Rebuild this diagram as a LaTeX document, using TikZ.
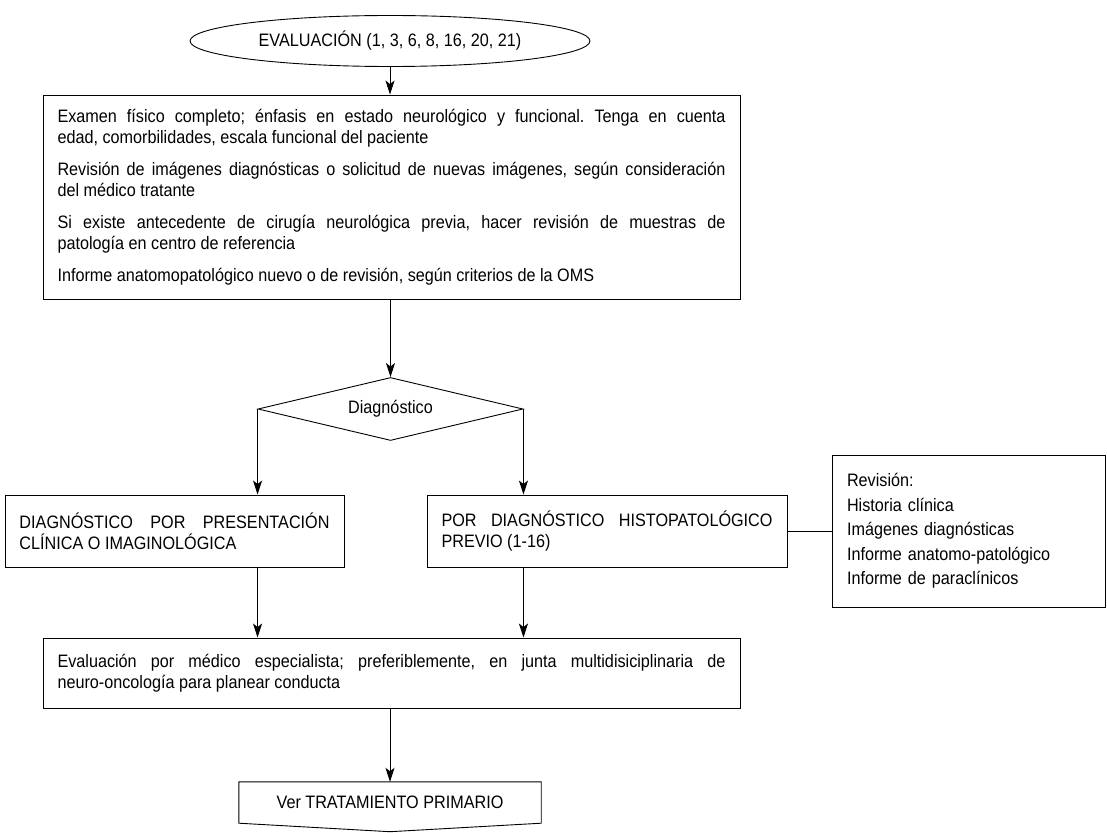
\documentclass[tikz,border=0pt]{standalone}
\usepackage{fontspec}
\setmainfont[FakeStretch=0.9]{Liberation Sans}
\usepackage{tikz}
\usetikzlibrary{shapes.geometric,arrows.meta,calc}
\hyphenpenalty=10000
\exhyphenpenalty=10000
\frenchspacing

\tikzset{
  caja/.style={draw,rectangle,line width=0.9pt,inner xsep=14.5pt,inner ysep=0pt,align=justify,font=\fontsize{18}{21}\selectfont},
  flecha/.style={line width=0.9pt,-{Stealth[length=14pt,width=9pt,inset=3.5pt]}},
  linea/.style={line width=0.9pt}
}

\begin{document}
\begin{tikzpicture}[x=1pt,y=-1pt]
%\draw[help lines] (0,0) grid (1107,832);
\path[use as bounding box] (0,0) rectangle (1107,832);

\node[draw,ellipse,line width=0.9pt,minimum width=400pt,minimum height=51pt,inner sep=0pt,font=\fontsize{18}{21}\selectfont] (evaluacion) at (390,41) {EVALUACIÓN (1, 3, 6, 8, 16, 20, 21)};

\node[caja,text width=668pt,minimum width=697pt,minimum height=204pt] (examen) at (391.5,197) {\setlength{\parskip}{11pt}Examen físico completo; énfasis en estado neurológico y funcional. Tenga en cuenta\linebreak edad, comorbilidades, escala funcional del paciente\par Revisión de imágenes diagnósticas o solicitud de nuevas imágenes, según consideración\linebreak del médico tratante\par Si existe antecedente de cirugía neurológica previa, hacer revisión de muestras de\linebreak patología en centro de referencia\par Informe anatomopatológico nuevo o de revisión, según criterios de la OMS};

\node[draw,diamond,line width=0.9pt,aspect=4.2,minimum width=265pt,minimum height=63pt,inner sep=0pt,font=\fontsize{18}{21}\selectfont] (diagnostico) at (390.5,409) {Diagnóstico};

\node[caja,text width=310pt,minimum width=339pt,minimum height=72pt] (clinica) at (174.5,531) {DIAGNÓSTICO POR PRESENTACIÓN\linebreak CLÍNICA O IMAGINOLÓGICA};
\node[caja,text width=331pt,minimum width=360pt,minimum height=72pt] (previo) at (607,531) {POR DIAGNÓSTICO HISTOPATOLÓGICO\linebreak PREVIO (1-16)};

\node[caja,align=left,text width=243pt,inner xsep=15pt,minimum width=273pt,minimum height=152pt,font=\fontsize{18}{24.5}\selectfont] (revision) at (968.5,531) {Revisión:\\Historia clínica\\Imágenes diagnósticas\\Informe anatomo-patológico\\Informe de paraclínicos};

\node[caja,text width=668pt,minimum width=697pt,minimum height=70pt] (especialista) at (391.5,673) {Evaluación por médico especialista; preferiblemente, en junta multidisiciplinaria de\linebreak neuro-oncología para planear conducta};

\node[minimum width=302pt,minimum height=41pt,inner sep=0pt,font=\fontsize{18}{21}\selectfont] (ver) at (390,802.5) {Ver TRATAMIENTO PRIMARIO};
\draw[linea] (ver.north west) -- (ver.north east) -- (ver.south east) -- ($(ver.south)+(0,8.5)$) -- (ver.south west) -- cycle;

\draw[flecha] (evaluacion.south) -- (evaluacion.south |- examen.north);
\draw[flecha] (examen.south -| diagnostico.north) -- (diagnostico.north);
\draw[flecha] (diagnostico.west) -- (diagnostico.west |- clinica.north);
\draw[flecha] (diagnostico.east) -- (diagnostico.east |- previo.north);
\draw[flecha] (diagnostico.west |- clinica.south) -- (diagnostico.west |- especialista.north);
\draw[flecha] (diagnostico.east |- previo.south) -- (diagnostico.east |- especialista.north);
\draw[linea] (previo.east) -- (revision.west);
\draw[flecha] (ver.north |- especialista.south) -- (ver.north);

\end{tikzpicture}
\end{document}
